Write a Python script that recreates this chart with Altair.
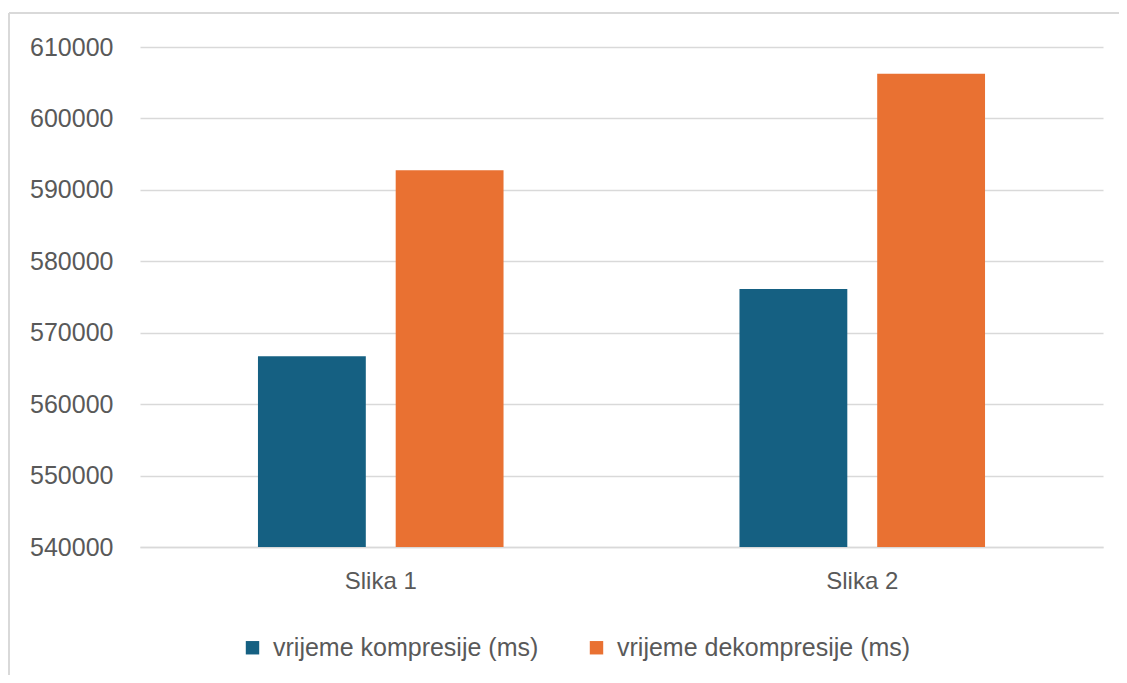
import altair as alt
import pandas as pd

categories = ["Slika 1", "Slika 2"]
series = ["vrijeme kompresije (ms)", "vrijeme dekompresije (ms)"]
kompresija = [566700, 576120]
dekompresija = [592740, 606260]
y_ticks = [540000, 550000, 560000, 570000, 580000, 590000, 600000, 610000]
colors = ["#156082", "#E97132"]

rows = []
for i, c in enumerate(categories):
    rows.append({"slika": c, "serija": series[0], "vrijednost": kompresija[i]})
    rows.append({"slika": c, "serija": series[1], "vrijednost": dekompresija[i]})
df = pd.DataFrame(rows)

FONT = "Liberation Sans"
GRID = "#d9d9d9"
TEXT = "#595959"

bars = alt.Chart(df).mark_bar(clip=True).encode(
    x=alt.X("slika:N", sort=categories, title=None,
            scale=alt.Scale(paddingInner=0.49, paddingOuter=0.245),
            axis=alt.Axis(labelAngle=0, labelFontSize=24, labelColor=TEXT, labelFont=FONT,
                          labelPadding=22, ticks=False, domain=True, domainColor=GRID,
                          domainWidth=1.5, grid=False)),
    xOffset=alt.XOffset("serija:N", sort=series,
                        scale=alt.Scale(paddingInner=0.217, paddingOuter=0)),
    y=alt.Y("vrijednost:Q", title=None,
            scale=alt.Scale(domain=[540000, 610000], nice=False, zero=False),
            axis=alt.Axis(values=y_ticks, format="d", labelFontSize=25, labelColor=TEXT,
                          labelFont=FONT, labelPadding=27, ticks=False, domain=False,
                          grid=True, gridColor=GRID, gridWidth=1.5)),
    color=alt.Color("serija:N", sort=series,
                    scale=alt.Scale(domain=series, range=colors),
                    legend=alt.Legend(title=None, orient="none", direction="horizontal",
                                      legendX=100, legendY=588, symbolType="square",
                                      symbolSize=180, symbolStrokeWidth=0,
                                      labelFontSize=25, labelColor=TEXT, labelFont=FONT,
                                      columnPadding=45, labelOffset=8, labelLimit=400)),
)

frame_left = alt.Chart(df).mark_rule(color=GRID, strokeWidth=2).encode(
    x=alt.value(-131), y=alt.value(-34), y2=alt.value(700))
frame_top = alt.Chart(df).mark_rule(color=GRID, strokeWidth=2).encode(
    x=alt.value(-131), x2=alt.value(1100), y=alt.value(-34))

chart = alt.layer(frame_left, frame_top, bars).properties(
    width=963, height=500,
    autosize=alt.AutoSizeParams(type="none"),
    padding={"left": 132, "top": 39, "right": 16, "bottom": 128},
).configure(background="white").configure_view(stroke=None)

chart.save("out.html", embed_options={"renderer": "svg", "actions": False})
